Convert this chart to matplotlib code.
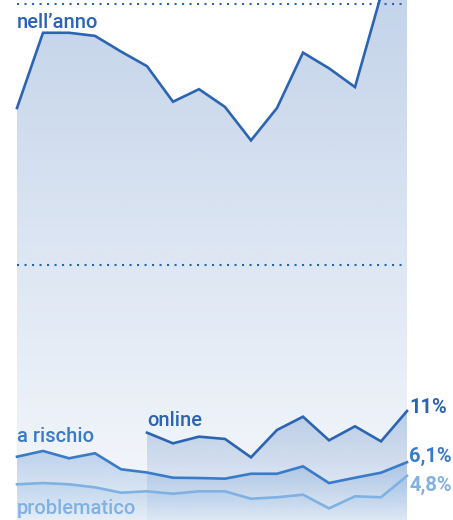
import numpy as np
import matplotlib
matplotlib.use("Agg")
import matplotlib.pyplot as plt
from matplotlib.colors import to_rgb
from matplotlib.patches import Polygon

plt.rcParams['font.family'] = ['Roboto', 'DejaVu Sans']

# ---- data (percent) ----
periods = list(range(16))
nell_anno = [40.0, 47.2, 47.2, 46.9, 45.4, 44.0, 40.6, 41.8, 40.1, 36.9,
             40.0, 45.3, 43.8, 42.0, 50.8, 52.5]
a_rischio = [6.63, 7.18, 6.48, 6.96, 5.43, 5.12, 4.62, 4.59, 4.53, 5.0,
             5.0, 5.71, 4.11, 4.62, 5.1, 6.1]
online_periods = list(range(5, 16))
online = [8.93, 7.91, 8.55, 8.33, 6.57, 9.19, 10.46, 8.2, 9.54, 8.1, 11.0]
problematico = [3.99, 4.11, 3.99, 3.7, 3.19, 3.32, 3.09, 3.32, 3.32, 2.61,
                2.75, 3.0, 1.69, 2.84, 2.75, 4.8]
gridlines = [25, 50]
end_labels = ["11%", "6,1%", "4,8%"]

DARK = "#2c64b4"
MID = "#3a7bc8"
LIGHT = "#80b1e3"

W, H = 453, 520
fig = plt.figure(figsize=(W / 100, H / 100), dpi=100)
ax = fig.add_axes([0, 0, 1, 1])
ax.set_axis_off()

px_per_x = 26.0
x0_px = 17.0
k = 10.45
Y0 = 526.0
YMAX = Y0 / k


def grad_fill(x, y, color, a_top, a_bot, top, z):
    verts = [(x[0], 0)] + list(zip(x, y)) + [(x[-1], 0)]
    poly = Polygon(verts, closed=True, facecolor='none', edgecolor='none')
    ax.add_patch(poly)
    img = np.zeros((256, 1, 4))
    img[:, :, :3] = to_rgb(color)
    img[:, 0, 3] = np.linspace(a_bot, a_top, 256)
    im = ax.imshow(img, aspect='auto', origin='lower',
                   extent=[x[0], x[-1], 0, top], zorder=z, interpolation='bilinear')
    im.set_clip_path(poly)


grad_fill(periods, nell_anno, DARK, 0.28, 0.04, YMAX, 1)
grad_fill(periods, a_rischio, MID, 0.28, 0.03, max(a_rischio), 2)
grad_fill(online_periods, online, DARK, 0.26, 0.03, max(online), 2)
grad_fill(periods, problematico, LIGHT, 0.26, 0.03, max(problematico), 3)

ax.set_xlim(-x0_px / px_per_x, (W - x0_px) / px_per_x)
ax.set_ylim((Y0 - H) / k, Y0 / k)

for g in gridlines:
    ax.plot([periods[0], periods[-1]], [g, g], color=DARK, lw=1.5,
            linestyle=(0, (1, 2.6)), zorder=4)

ax.plot(periods, nell_anno, color=DARK, lw=1.9, zorder=5, solid_joinstyle='miter')
ax.plot(online_periods, online, color=DARK, lw=1.9, zorder=5, solid_joinstyle='miter')
ax.plot(periods, a_rischio, color=MID, lw=1.9, zorder=5, solid_joinstyle='miter')
ax.plot(periods, problematico, color=LIGHT, lw=1.9, zorder=5, solid_joinstyle='miter')


def px2data(xp, yp):
    return ((xp - x0_px) / px_per_x, (Y0 - yp) / k)


fs = 14.5
fw = 'medium'
ax.text(*px2data(17, 28), "nell’anno", color=DARK, fontsize=fs, fontweight=fw,
        ha='left', va='baseline', zorder=6)
ax.text(*px2data(17, 442), "a rischio", color=MID, fontsize=fs, fontweight=fw,
        ha='left', va='baseline', zorder=6)
ax.text(*px2data(147, 426), "online", color=DARK, fontsize=fs, fontweight=fw,
        ha='left', va='baseline', zorder=6)
ax.text(*px2data(17, 514), "problematico", color=LIGHT, fontsize=fs, fontweight=fw,
        ha='left', va='baseline', zorder=6)

efs = 14.5
ax.text(*px2data(409, 413), end_labels[0], color=DARK, fontsize=efs, fontweight='bold',
        ha='left', va='baseline', zorder=6)
ax.text(*px2data(409, 462), end_labels[1], color=MID, fontsize=efs, fontweight='bold',
        ha='left', va='baseline', zorder=6)
ax.text(*px2data(409, 491), end_labels[2], color=LIGHT, fontsize=efs, fontweight='bold',
        ha='left', va='baseline', zorder=6)

fig.savefig("out.png", dpi=100)
